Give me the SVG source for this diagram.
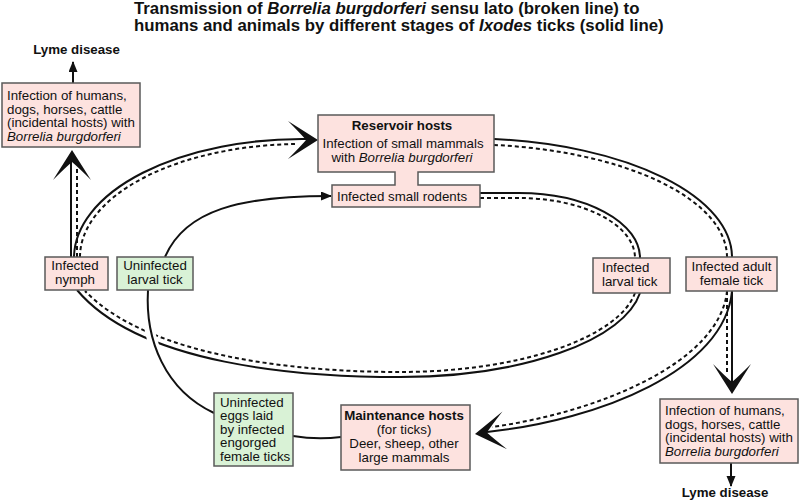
<svg xmlns="http://www.w3.org/2000/svg" width="800" height="503" viewBox="0 0 800 503">
<style>
.t{font-family:"Liberation Sans",Arial,sans-serif;font-size:13.3px;fill:#111}
.b{font-weight:bold}
.i{font-style:italic}
.ttl{font-family:"Liberation Sans",Arial,sans-serif;font-size:16.8px;font-weight:bold;fill:#111}
.pk{fill:#fde2df;stroke:#5a5a5a;stroke-width:1.5}
.gr{fill:#d9f2d6;stroke:#5a5a5a;stroke-width:1.5}
.sl{fill:none;stroke:#111;stroke-width:2}
.dt{fill:none;stroke:#111;stroke-width:2;stroke-dasharray:4 3}
.halo{fill:none;stroke:#fff;stroke-width:10}
</style>
<defs>
<path id="chev" d="M0,0 L-30,-19 Q-17,-6 -12,0 Q-17,6 -30,19 Z" fill="#111"/>
<marker id="ah" markerUnits="userSpaceOnUse" markerWidth="12" markerHeight="10" refX="10" refY="4.5" orient="auto">
<path d="M0,0 L11,4.5 L0,9 Z" fill="#111"/>
</marker>
</defs>
<text class="ttl" x="134" y="13.5">Transmission of <tspan class="i">Borrelia burgdorferi</tspan> sensu lato (broken line) to</text>
<text class="ttl" x="134" y="31">humans and animals by different stages of <tspan class="i">Ixodes</tspan> ticks (solid line)</text>
<g id="connectors">
<path class="sl" d="M74,257 A228,119 0 0 1 306,139"/>
<path class="dt" d="M80,257 A222,113 0 0 1 296,144"/>
<path class="sl" d="M494,139 A266,119 0 0 1 732,257"/>
<path class="dt" d="M494,145 A261,113 0 0 1 727,257"/>
<path class="sl" d="M480,193 L518,193 A121,65 0 0 1 640,258"/>
<path class="dt" d="M480,198 L518,198 A116,60 0 0 1 635,258"/>
<path class="sl" d="M640,293 A242,97 0 0 1 400,377 C300,377 140,365 77,290"/>
<path class="dt" d="M635,293 A237,92 0 0 1 400,372 C300,372 150,358 85,291"/>
<path class="sl" d="M732,291 C725,370 600,420 487,432"/>
<path class="dt" d="M727,291 C720,362 600,412 492,427"/>
<path class="sl" d="M732,291 L732,382"/>
<path class="dt" d="M727,291 L727,374"/>
<path class="sl" d="M71,257 L71,162"/>
<path class="dt" d="M77,257 L77,168"/>
<path class="halo" d="M148,300 C145,340 165,390 214,413"/>
<path class="sl" d="M148,290 C145,340 165,390 214,413"/>
<path class="sl" d="M165,257 C185,210 240,196 331,196" marker-end="url(#ah)"/>
<path class="sl" d="M293,436 Q317,440 341,437"/>
<path class="sl" d="M73,83 L73,62" marker-end="url(#ah)"/>
<path class="sl" d="M731,463 L731,486" marker-end="url(#ah)"/>
<use href="#chev" transform="translate(318,140)"/>
<use href="#chev" transform="translate(72,150) rotate(-90)"/>
<use href="#chev" transform="translate(732,394) rotate(90)"/>
<use href="#chev" transform="translate(475,434) rotate(173)"/>
</g>
<g id="lyme-top"><text class="t b" x="76.5" y="54" text-anchor="middle">Lyme disease</text></g>
<g id="incidental-top">
<rect class="pk" x="2" y="83" width="138" height="64"/>
<text class="t" x="7" y="100">Infection of humans,</text>
<text class="t" x="7" y="113.5">dogs, horses, cattle</text>
<text class="t" x="7" y="127">(incidental hosts) with</text>
<text class="t i" x="7" y="140.5">Borrelia burgdorferi</text>
</g>
<g id="reservoir">
<path class="pk" d="M318,115 H494 V172 H418 V185 H480 V207 H332 V185 H395 V172 H318 Z"/>
<text class="t b" x="402" y="130" text-anchor="middle">Reservoir hosts</text>
<text class="t" x="403" y="148" text-anchor="middle">Infection of small mammals</text>
<text class="t" x="402" y="162" text-anchor="middle">with <tspan class="i">Borrelia burgdorferi</tspan></text>
<text class="t" x="337" y="200.5">Infected small rodents</text>
</g>
<g id="nymph">
<rect class="pk" x="45" y="257" width="63" height="33"/>
<text class="t" x="75" y="270" text-anchor="middle">Infected</text>
<text class="t" x="75" y="284" text-anchor="middle">nymph</text>
</g>
<g id="uninfected-larval">
<rect class="gr" x="117" y="257" width="76" height="33"/>
<text class="t" x="155" y="270" text-anchor="middle">Uninfected</text>
<text class="t" x="155" y="284" text-anchor="middle">larval tick</text>
</g>
<g id="infected-larval">
<rect class="pk" x="593" y="258" width="77" height="35"/>
<text class="t" x="602" y="271.5">Infected</text>
<text class="t" x="602" y="285.5">larval tick</text>
</g>
<g id="adult-female">
<rect class="pk" x="686" y="257" width="91" height="34"/>
<text class="t" x="731.5" y="271" text-anchor="middle">Infected adult</text>
<text class="t" x="731.5" y="285" text-anchor="middle">female tick</text>
</g>
<g id="maintenance">
<rect class="pk" x="341" y="405" width="129" height="65"/>
<text class="t b" x="404" y="419.5" text-anchor="middle">Maintenance hosts</text>
<text class="t" x="404" y="434" text-anchor="middle">(for ticks)</text>
<text class="t" x="404" y="447.5" text-anchor="middle">Deer, sheep, other</text>
<text class="t" x="404" y="461.5" text-anchor="middle">large mammals</text>
</g>
<g id="eggs">
<rect class="gr" x="214" y="393" width="79" height="73"/>
<text class="t" x="220" y="406.5">Uninfected</text>
<text class="t" x="220" y="420">eggs laid</text>
<text class="t" x="220" y="433.5">by infected</text>
<text class="t" x="220" y="447">engorged</text>
<text class="t" x="220" y="460.5">female ticks</text>
</g>
<g id="incidental-bottom">
<rect class="pk" x="660" y="399" width="138" height="64"/>
<text class="t" x="665" y="415">Infection of humans,</text>
<text class="t" x="665" y="428.5">dogs, horses, cattle</text>
<text class="t" x="665" y="442">(incidental hosts) with</text>
<text class="t i" x="665" y="455.5">Borrelia burgdorferi</text>
</g>
<g id="lyme-bottom"><text class="t b" x="725" y="497" text-anchor="middle">Lyme disease</text></g>
</svg>
